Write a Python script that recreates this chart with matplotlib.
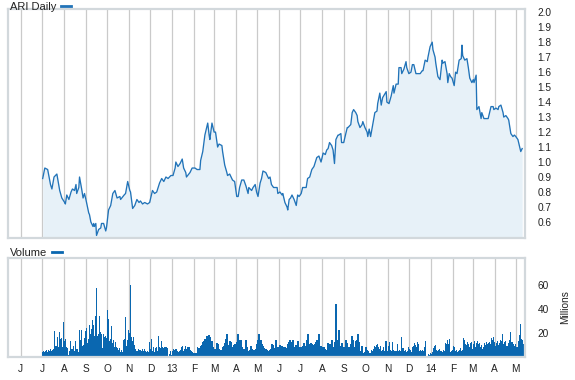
import numpy as np
import pandas as pd
import matplotlib
matplotlib.use('Agg')
import matplotlib.pyplot as plt
from matplotlib.lines import Line2D

plt.rcParams['font.family'] = ['Liberation Sans', 'DejaVu Sans']

# price: days after 2012-07-01 and closing value
price_days = [1, 4, 8, 12, 14, 17, 19, 21, 25, 28, 32, 33, 35, 38, 41, 43, 46, 48, 49, 52,
              53, 56, 58, 60, 62, 66, 67, 69, 72, 73, 74, 76, 77, 80, 83, 84, 87, 90, 91, 94,
              97, 100, 103, 106, 110, 111, 116, 118, 121, 124, 125, 128, 131, 134, 137, 139, 142, 145, 149, 152,
              154, 156, 159, 162, 166, 169, 172, 175, 178, 182, 185, 188, 189, 192, 195, 198, 200, 203, 204, 209,
              212, 216, 219, 223, 224,
              227, 230, 231, 234, 236, 237, 240, 243, 245, 248, 250, 254, 255, 258, 261, 262, 265, 268, 269, 272,
              275, 277, 279, 282, 285, 288, 291, 292, 296, 298, 301, 303, 305, 308, 310, 312, 316, 319, 320, 322,
              324, 327, 332, 333, 336, 339, 340, 343, 346, 347, 349, 351, 353, 356, 359, 361, 363, 366, 368, 373,
              375, 378, 381, 384, 388, 391, 394, 397, 400, 402, 404, 406, 409, 411, 413, 415, 418, 419, 422, 423,
              426, 431, 432, 436, 438, 440, 443,
              445, 446, 449, 452, 453, 456, 459, 460, 462, 464, 467, 470, 473, 474, 477, 479, 481, 486, 487, 490,
              493, 496, 497, 500, 503, 504, 507, 508, 511, 514, 515, 518, 521, 523, 525, 528, 531, 534, 537, 538,
              541, 544, 545, 548, 551, 552, 555, 556, 558, 559, 562, 565, 566, 569, 572, 573, 575, 577, 579, 582,
              584, 586, 589, 592, 593, 594, 597, 600, 602, 604, 607, 609, 610, 613, 614, 617, 620, 621, 624, 627,
              630, 631, 634, 637, 638, 641, 644, 645, 648, 651, 652, 655, 658, 659, 662, 665, 667, 669, 672, 674,
              676, 678]
price = [0.89, 0.96, 0.95, 0.85, 0.82, 0.90, 0.91, 0.92, 0.81, 0.76, 0.73, 0.72, 0.78, 0.75, 0.80, 0.82, 0.81, 0.85, 0.79, 0.83,
         0.90, 0.82, 0.76, 0.79, 0.75, 0.66, 0.65, 0.60, 0.57, 0.59, 0.57, 0.59, 0.51, 0.55, 0.56, 0.59, 0.59, 0.54, 0.56, 0.68,
         0.71, 0.79, 0.81, 0.76, 0.77, 0.75, 0.78, 0.79, 0.87, 0.81, 0.80, 0.69, 0.71, 0.75, 0.73, 0.74, 0.72, 0.73, 0.72, 0.73,
         0.77, 0.81, 0.79, 0.80, 0.86, 0.89, 0.87, 0.90, 0.89, 0.91, 0.91, 0.96, 1.00, 0.97, 0.99, 1.02, 0.96, 0.93, 0.90, 0.93,
         0.96, 0.96, 0.95, 0.95, 1.01,
         1.07, 1.18, 1.20, 1.26, 1.18, 1.15, 1.26, 1.20, 1.20, 1.10, 1.12, 1.11, 1.07, 0.98, 0.93, 0.91, 0.92, 0.89, 0.88, 0.87,
         0.77, 0.77, 0.83, 0.88, 0.88, 0.84, 0.79, 0.83, 0.81, 0.83, 0.85, 0.80, 0.77, 0.86, 0.89, 0.94, 0.93, 0.90, 0.89, 0.90,
         0.85, 0.83, 0.83, 0.79, 0.80, 0.78, 0.79, 0.73, 0.70, 0.68, 0.75, 0.76, 0.78, 0.75, 0.71, 0.78, 0.77, 0.79, 0.83, 0.83,
         0.89, 0.90, 0.95, 0.97, 1.03, 1.04, 1.00, 1.06, 1.05, 1.08, 1.09, 1.13, 1.11, 1.08, 0.99, 1.15, 1.18, 1.18, 1.19, 1.13,
         1.13, 1.23, 1.23, 1.25, 1.33, 1.35, 1.33,
         1.31, 1.27, 1.23, 1.25, 1.27, 1.23, 1.20, 1.17, 1.22, 1.17, 1.25, 1.33, 1.34, 1.39, 1.46, 1.38, 1.43, 1.47, 1.40, 1.39,
         1.44, 1.51, 1.46, 1.52, 1.52, 1.63, 1.63, 1.59, 1.62, 1.67, 1.63, 1.59, 1.60, 1.65, 1.65, 1.59, 1.59, 1.59, 1.61, 1.61,
         1.68, 1.67, 1.70, 1.77, 1.80, 1.75, 1.70, 1.66, 1.60, 1.57, 1.55, 1.68, 1.66, 1.67, 1.59, 1.53, 1.59, 1.57, 1.56, 1.51,
         1.60, 1.59, 1.68, 1.69, 1.78, 1.71, 1.68, 1.69, 1.63, 1.56, 1.53, 1.55, 1.53, 1.58, 1.35, 1.37, 1.29, 1.33, 1.29, 1.29,
         1.29, 1.31, 1.37, 1.37, 1.35, 1.36, 1.35, 1.37, 1.38, 1.33, 1.30, 1.31, 1.29, 1.28, 1.19, 1.17, 1.18, 1.17, 1.15, 1.11,
         1.07, 1.09]

# daily volume in millions, 2012-07-02 .. 2014-05-13
volume = [4.2, 5.0, 4.2, 5.6, 6.1, 4.5, 6.0, 5.2, 7.0, 5.6, 6.1, 7.0, 22, 9.7, 9.7, 17, 8.9, 21, 15.3, 15.8,
          8.9, 29, 13.4, 15.3, 8.4, 8.0, 1.5, 5.6, 13.9, 7.0, 7.0, 9.7, 5.6, 13.1, 7.0, 7.0, 4.2, 23, 14, 23,
          9, 10.6, 16, 22, 24, 11.7, 15.3, 27, 19.5, 23.6, 31, 26.4, 17.3, 34, 57, 18, 19.5, 34, 20.9, 19.5,
          7.8, 19.5, 16.7, 18, 16, 39, 32, 13.1, 15.3, 25.6, 11.7, 14, 8.4, 12.5, 8.9, 7.8, 6.1, 7.8, 4.2, 6.1,
          4.2, 14, 15.3, 33, 9.7, 14, 22.8, 20, 60, 16.7, 13.4, 16.7, 10.6, 7.0, 5.6, 5.0, 7.0, 6.1, 6.1, 5.0,
          7.0, 5.6, 7.0, 5.6, 4.8, 5.6, 4.2, 12.5, 7.0, 15.3, 5.6, 8.4, 4.2, 7.8, 8.4, 5.6, 17.3, 8.9, 7.5, 13.1,
          8.9, 7.8, 8.4, 8.4, 8.9, 7.8, 1.4, 2.8, 5.6, 2.2, 5.6, 7.0, 6.1, 7.0, 7.0, 5.6, 4.2, 5.6, 6.1, 8.4,
          9.7, 5.6, 7.0, 9.7, 7.0, 8.4, 8.9, 8.4, 6.1, 5.6, 4.2, 3.4,
          3.4, 3.4, 3.6, 8.4, 7.8, 7.8, 9.5, 10.6, 12.5, 13.5, 15.3, 14.0, 17.3, 17.5, 18.1, 16.7, 8.4, 13.4, 8.4, 6.1,
          7.0, 7.0, 11.7, 11.2, 7.0, 6.1, 6.1, 4.2, 8.4, 9.7, 11.7, 15.3, 19.5, 10.6, 8.4, 13.4, 12.5, 8.9, 5.6, 10.6,
          11.2, 7.0, 12.5, 19.5, 11.2, 14.0, 14.5, 8.4, 5.6, 7.0, 4.2, 14.5, 8.4, 5.6, 4.2, 6.1, 9.7, 7.0, 4.2, 6.1,
          3.4, 7.0, 11.2, 14.0, 19.5, 12.5, 14.5, 11.2, 9.7, 7.8, 6.1, 7.0, 6.1, 5.6, 5.0, 6.1, 7.0, 11.2, 10.6, 5.0,
          7.8, 14.0, 8.4, 6.1, 8.9, 10.6, 7.8, 9.7, 8.9, 6.1, 8.9, 7.8, 7.0, 11.2, 12.5, 14.0, 9.7, 12.5, 14.5, 8.4,
          8.9, 10.6, 8.9, 13.4, 4.2, 8.4, 8.4, 7.0, 9.7, 11.7, 9.7, 7.0, 14.0, 19.0, 11.2, 7.8, 11.7, 11.2, 9.7, 10.6,
          11.2, 12.5, 14.5, 11.2, 19.5, 7.8, 9.7, 8.9, 7.0, 8.4, 7.0, 6.1, 6.1, 11.7, 9.7, 11.2, 11.2, 14.0, 7.0, 8.4,
          12.5, 43.9, 14.5, 14.5, 22.3, 9.7, 8.4, 11.7, 8.4, 7.0, 8.9, 14.0, 11.7, 7.8, 8.9, 6.1, 11.2, 17.3, 14.5, 8.9,
          8.4, 13.4, 14.5,
          18.9, 12.5, 5.0, 5.6, 9.7, 3.3, 3.3, 4.2, 8.4, 6.1, 5.0, 3.3, 3.3, 6.1, 5.6, 7.0, 9.7, 8.4, 10.6, 11.1,
          8.4, 7.0, 9.7, 5.6, 6.1, 8.4, 5.6, 13.4, 13.9, 5.6, 9.7, 12.5, 6.1, 5.6, 12.5, 6.1, 5.6, 5.6, 5.6, 11.1,
          5.6, 6.1, 5.0, 16.7, 7.8, 7.8, 5.6, 6.1, 4.2, 5.6, 8.4, 7.0, 6.1, 4.2, 8.4, 9.7, 11.7, 10.6, 8.4, 12.5,
          11.1, 5.6, 6.1, 5.0, 6.1, 5.6, 8.4, 13.4, 1.4, 0.6, 2.9, 2.2, 3.3, 2.9, 4.2, 7.8, 9.7, 10.6, 6.1, 5.6,
          6.1, 7.0, 5.0, 5.6, 4.2, 6.1, 5.6, 11.7, 11.1, 14.5, 11.1, 15.3, 4.2, 5.0, 6.1, 9.7, 8.4, 5.6, 6.1, 4.2,
          5.0, 6.1, 7.8, 5.6, 6.1, 16.1, 14.5, 11.1, 10.6, 12.5, 11.1, 8.9, 11.7, 12.5, 7.0, 11.1, 13.4, 8.4, 11.7, 13.4,
          11.1, 11.7, 8.4, 10.6, 7.0, 8.4, 11.7, 10.6, 12.5, 11.1, 11.7, 12.5, 11.1, 16.1, 14.5, 17.2, 12.5, 9.7, 11.7, 13.4,
          10.6, 11.7, 14.5, 13.9, 18.9, 11.1, 12.5, 13.9, 9.7, 9.7, 11.7, 14.5, 20.9, 12.5, 12.5, 11.1, 9.7, 11.1, 8.4, 8.4,
          13.9, 18.1, 27.2, 15.3, 14.5, 11.1, 11.1]

month_labels = ['J', 'J', 'A', 'S', 'O', 'N', 'D', '13', 'F', 'M', 'A', 'M',
                'J', 'J', 'A', 'S', 'O', 'N', 'D', '14', 'F', 'M', 'A', 'M']
price_ticks = [0.6, 0.7, 0.8, 0.9, 1.0, 1.1, 1.2, 1.3, 1.4, 1.5, 1.6, 1.7, 1.8, 1.9, 2.0]
volume_ticks = [20, 40, 60]

price_dates = pd.Timestamp('2012-07-01') + pd.to_timedelta(price_days, unit='D')
vol_dates = pd.date_range('2012-07-02', '2014-05-13', periods=len(volume))
months = pd.date_range('2012-06-01', periods=len(month_labels), freq='MS')
xlim = (pd.Timestamp('2012-05-14'), pd.Timestamp('2014-05-14'))

line_c = '#2173b8'
bar_c = '#0a67b0'
frame_c = '#d2d8dc'
grid_c = '#cacaca'
txt_c = '#222222'

W, H = 575, 380
fig = plt.figure(figsize=(W / 100, H / 100), dpi=100)
ax1 = fig.add_axes([8 / W, 1 - 238 / H, 517 / W, 228.5 / H])
ax2 = fig.add_axes([8 / W, 1 - 357.3 / H, 517 / W, 99.6 / H])

for ax in (ax1, ax2):
    ax.set_xlim(*xlim)
    for m in months:
        ax.axvline(m, color=grid_c, lw=0.9, zorder=0)
    for s in ax.spines.values():
        s.set_color(frame_c)
        s.set_linewidth(1.6)
    ax.yaxis.tick_right()
    ax.tick_params(length=0, labelsize=7.3, colors=txt_c, pad=9)
    ax.set_xticks(months)

# price panel
ax1.set_ylim(0.493, 2.018)
ax1.fill_between(price_dates, price, 0.493, color='#e7f1f8', lw=0, zorder=1)
ax1.plot(price_dates, price, color=line_c, lw=0.95, zorder=2)
ax1.set_yticks(price_ticks)
ax1.set_yticklabels(['%.1f' % t for t in price_ticks])
ax1.set_xticklabels([])
ax1.legend([Line2D([], [], color=line_c, lw=2)], ['ARI Daily'],
           loc='lower left', bbox_to_anchor=(0.004, 0.99), frameon=False, markerfirst=False,
           handlelength=0.85, handletextpad=0.45, borderpad=0, borderaxespad=0,
           prop={'size': 8}, labelcolor=txt_c)

# volume panel
ax2.set_ylim(0, 82.5)
ax2.bar(vol_dates, volume, width=1.7, color=bar_c, lw=0, zorder=2)
ax2.set_yticks(volume_ticks)
ax2.set_xticklabels(month_labels)
ax2.tick_params(axis='x', pad=5)
ax2.yaxis.set_label_position('right')
ax2.set_ylabel('Millions', fontsize=7.3, color=txt_c, labelpad=8)
ax2.legend([Line2D([], [], color=bar_c, lw=2)], ['Volume'],
           loc='lower left', bbox_to_anchor=(0.004, 1.0), frameon=False, markerfirst=False,
           handlelength=0.85, handletextpad=0.45, borderpad=0, borderaxespad=0,
           prop={'size': 8}, labelcolor=txt_c)

fig.savefig('out.png', dpi=100, facecolor='white')
